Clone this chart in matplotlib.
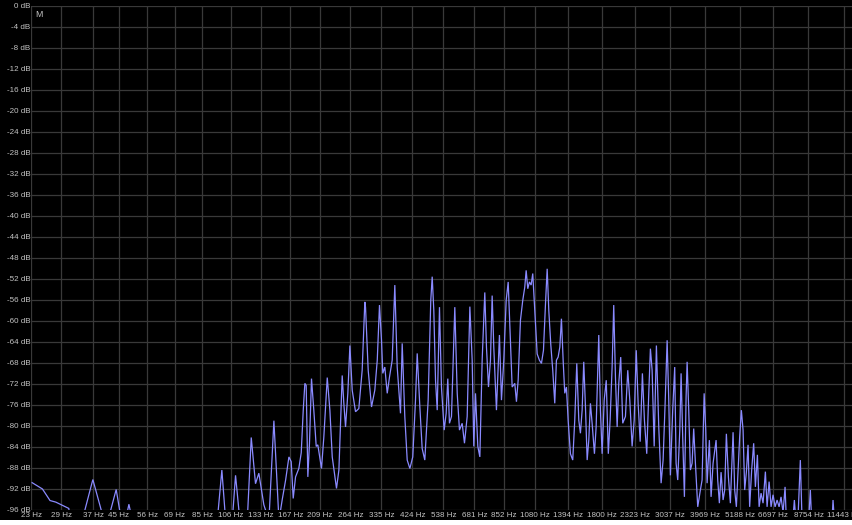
import matplotlib
matplotlib.use("Agg")
import matplotlib.pyplot as plt
from matplotlib.ticker import NullLocator, FixedLocator, FixedFormatter
from matplotlib.patches import Rectangle

# ---- data ----
freq_ticks = [23, 29, 37, 45, 56, 69, 85, 106, 133, 167, 209, 264, 335, 424, 538,
              681, 852, 1080, 1394, 1800, 2323, 3037, 3969, 5188, 6697, 8754, 11443]
freq_labels = [f"{v} Hz" for v in freq_ticks]
db_ticks = list(range(0, -97, -4))
db_labels = [f"{v} dB" for v in db_ticks]

spectrum_hz = [
    23.2, 25.1, 26.6, 27.8, 29.2, 30.7, 31.1, 34.0, 36.9, 40.2, 41.4, 44.1, 45.9, 47.4, 48.6, 49.9,
    95.5, 98.9, 101.8, 107.1, 109.8, 113.5, 120.1, 123.8, 127.9, 131.2, 136.3, 141.7, 147.2, 153.0,
    156.9, 161.0, 165.1, 168.0, 170.6, 173.7, 178.1, 181.4, 184.2, 186.5, 188.4, 190.8, 193.2, 196.2,
    199.7, 203.4, 205.9, 211.8, 215.6, 221.3, 225.8, 229.9, 237.5, 241.9, 248.1, 251.2, 254.5, 259.0,
    263.1, 267.8, 274.7, 281.7, 289.0, 294.9, 296.5, 302.6, 310.4, 318.3, 324.3, 329.9, 335.0, 338.3,
    343.6, 350.0, 356.1, 363.5, 370.9, 377.7, 387.3, 392.4, 400.3, 407.7, 416.1, 425.4, 434.4, 440.1,
    449.1, 457.1, 466.4, 478.5, 488.2, 493.5, 499.6, 506.2, 512.8, 521.8, 529.7, 540.8, 549.1, 556.0,
    563.1, 571.9, 586.6, 597.5, 607.9, 620.5, 631.6, 644.8, 658.1, 669.9, 678.2, 687.1, 699.4, 710.4,
    723.0, 737.7, 747.2, 758.8, 770.3, 780.4, 790.1, 806.4, 825.1, 837.9, 852.9, 868.7, 882.1, 897.5,
    909.3, 927.7, 939.6, 951.9, 968.7, 986.0, 1001.3, 1012.0, 1024.6, 1037.7, 1051.2, 1064.2, 1080.7,
    1100.8, 1120.0, 1137.4, 1155.1, 1173.0, 1188.3, 1203.1, 1221.1, 1240.0, 1259.2, 1275.4, 1292.1,
    1309.0, 1325.1, 1342.5, 1359.2, 1376.7, 1394.7, 1419.4, 1444.7, 1467.1, 1490.0, 1513.0, 1532.1,
    1552.2, 1571.5, 1592.2, 1613.0, 1633.1, 1653.7, 1675.4, 1705.3, 1727.5, 1762.7, 1785.0, 1808.4,
    1837.1, 1866.4, 1896.0, 1922.3, 1951.9, 1976.2, 2002.3, 2028.4, 2053.7, 2084.5, 2116.7, 2161.2,
    2199.7, 2234.4, 2274.2, 2310.4, 2347.2, 2381.3, 2418.6, 2460.3, 2498.6, 2543.4, 2582.7, 2615.4,
    2649.7, 2691.8, 2738.1, 2787.8, 2838.2, 2882.0, 2926.9, 2972.1, 3009.0, 3047.1, 3101.3, 3149.5,
    3183.0, 3222.9, 3273.8, 3306.8, 3347.5, 3391.6, 3435.7, 3462.6, 3505.7, 3550.1, 3596.6, 3641.3,
    3689.3, 3755.0, 3831.9, 3882.1, 3943.8, 3992.5, 4034.2, 4104.7, 4158.4, 4222.5, 4321.0, 4374.8,
    4430.6, 4488.6, 4557.8, 4614.5, 4673.9, 4746.7, 4818.9, 4919.6, 4980.8, 5044.9, 5110.9, 5173.6,
    5241.4, 5310.1, 5376.2, 5445.3, 5516.6, 5584.2, 5670.4, 5758.6, 5834.4, 5924.8, 6002.2, 6092.7,
    6186.7, 6297.6, 6380.0, 6478.7, 6576.4, 6677.8, 6781.8, 6886.5, 6993.1, 7098.5, 7208.0, 7320.2,
    7391.5, 7768.0, 7858.7, 7950.0, 8074.3, 8225.9, 8333.7, 8768.0, 8878.9, 8967.7, 10480.0, 10560.8,
    10667.4, 12200.0,
]
spectrum_db = [
    -90.8, -92.0, -94.2, -94.5, -95.1, -95.7, -98, -98, -90.2, -98, -98, -92.1, -98, -98, -94.9, -98,
    -98, -88.4, -98, -98, -89.4, -98, -98, -82.2, -91.0, -89.0, -95.0, -98, -79.0, -98,
    -94.0, -90.3, -85.9, -86.8, -93.8, -89.7, -88.1, -85.1, -77.0, -71.9, -72.3, -89.7, -83.3, -71.0,
    -77.0, -83.9, -83.6, -88.1, -82.1, -70.8, -77.0, -85.9, -91.9, -88.4, -70.4, -75.7, -80.2, -73.8,
    -64.7, -73.2, -77.3, -76.7, -69.4, -56.4, -57.4, -69.4, -76.4, -73.2, -67.5, -57.0, -63.7, -70.0,
    -68.8, -73.8, -70.7, -67.5, -53.2, -68.8, -77.6, -64.3, -78.2, -86.5, -88.1, -85.9, -75.1, -66.2,
    -76.4, -84.3, -86.5, -75.1, -56.1, -51.6, -58.0, -71.3, -77.0, -57.4, -72.6, -80.8, -77.6, -71.0,
    -79.5, -78.2, -57.4, -73.8, -80.8, -79.5, -83.3, -78.2, -57.3, -67.5, -83.9, -73.8, -83.9, -85.9,
    -67.5, -54.6, -65.0, -72.6, -67.5, -55.2, -65.0, -77.0, -62.7, -75.1, -67.5, -56.1, -52.6, -63.7,
    -72.6, -71.9, -75.4, -71.3, -59.9, -56.1, -53.6, -50.4, -53.9, -52.6, -53.2, -51.0, -58.0,
    -66.3, -67.5, -68.1, -65.6, -56.8, -50.1, -58.0, -64.4, -69.4, -75.7, -67.5, -66.9,
    -65.0, -59.6, -67.5, -73.8, -72.6, -78.9, -85.3, -86.5, -78.9, -68.1, -78.9, -81.4,
    -77.0, -67.8, -76.4, -86.5, -82.7, -75.7, -79.5, -85.3, -80.2, -62.7, -77.0, -85.3,
    -75.1, -71.3, -85.3, -78.9, -68.8, -57.0, -70.7, -80.2, -71.9, -66.9, -79.5, -78.2,
    -69.4, -75.1, -83.9, -78.9, -65.6, -75.7, -83.0, -70.0, -78.9, -85.3, -73.8, -65.3,
    -69.4, -83.9, -64.7, -80.2, -90.9, -86.5, -75.7, -63.7, -75.1, -89.4, -77.0, -68.8,
    -87.1, -90.3, -80.8, -70.0, -82.1, -93.5, -74.5, -67.8, -77.0, -88.4, -87.1, -80.5,
    -87.1, -95.4, -92.2, -90.3, -73.8, -80.8, -90.9, -82.7, -93.5, -87.1, -82.7, -90.3,
    -94.7, -88.8, -94.1, -92.2, -81.5, -89.7, -94.7, -81.2, -92.2, -95.4, -88.4, -82.1,
    -77.0, -80.8, -92.2, -88.8, -83.6, -95.4, -88.4, -83.3, -91.6, -85.5, -95.4, -92.8,
    -94.7, -88.7, -95.4, -90.6, -95.4, -93.1, -95.4, -94.1, -95.4, -93.5, -96.5, -91.6,
    -98, -98, -94.1, -98, -98, -86.5, -98, -98, -92.2, -98, -98, -94.1,
    -98, -98,
]

# ---- figure ----
W, H = 852, 525
fig = plt.figure(figsize=(W / 100, H / 100), dpi=100, facecolor="black")
ax = fig.add_axes([31 / W, 15 / H, 821 / W, 504.5 / H])
ax.set_facecolor("black")

ax.plot(spectrum_hz, spectrum_db, color="#8a8aff", lw=0.9, solid_joinstyle="miter")

ax.set_xscale("log")
ax.set_xlim(23, 12208)
ax.set_ylim(-96, 0)

ax.xaxis.set_major_locator(FixedLocator(freq_ticks))
ax.xaxis.set_major_formatter(FixedFormatter(freq_labels))
ax.xaxis.set_minor_locator(NullLocator())
ax.set_yticks(db_ticks)
ax.set_yticklabels(db_labels)

family = ["Liberation Sans", "DejaVu Sans"]
for lab in ax.get_xticklabels() + ax.get_yticklabels():
    lab.set_fontfamily(family)
    lab.set_fontsize(5.8)
    lab.set_color("#c4c4c4")

ax.tick_params(axis="x", length=0, pad=1.5)
ax.tick_params(axis="y", length=0, pad=0.5)
ax.grid(True, color="#393939", lw=0.9)
ax.set_axisbelow(True)
for s in ax.spines.values():
    s.set_visible(False)

fig.text(38.5 / W, 1 - 14.5 / H, "M", color="#c4c4c4", ha="center", va="center",
         fontfamily=family, fontsize=6.3)

fig.patches.append(Rectangle((0, 0), 1, 5.5 / H, transform=fig.transFigure,
                             facecolor="white", edgecolor="none", zorder=10))

fig.savefig("out.png", dpi=100, facecolor="black")
